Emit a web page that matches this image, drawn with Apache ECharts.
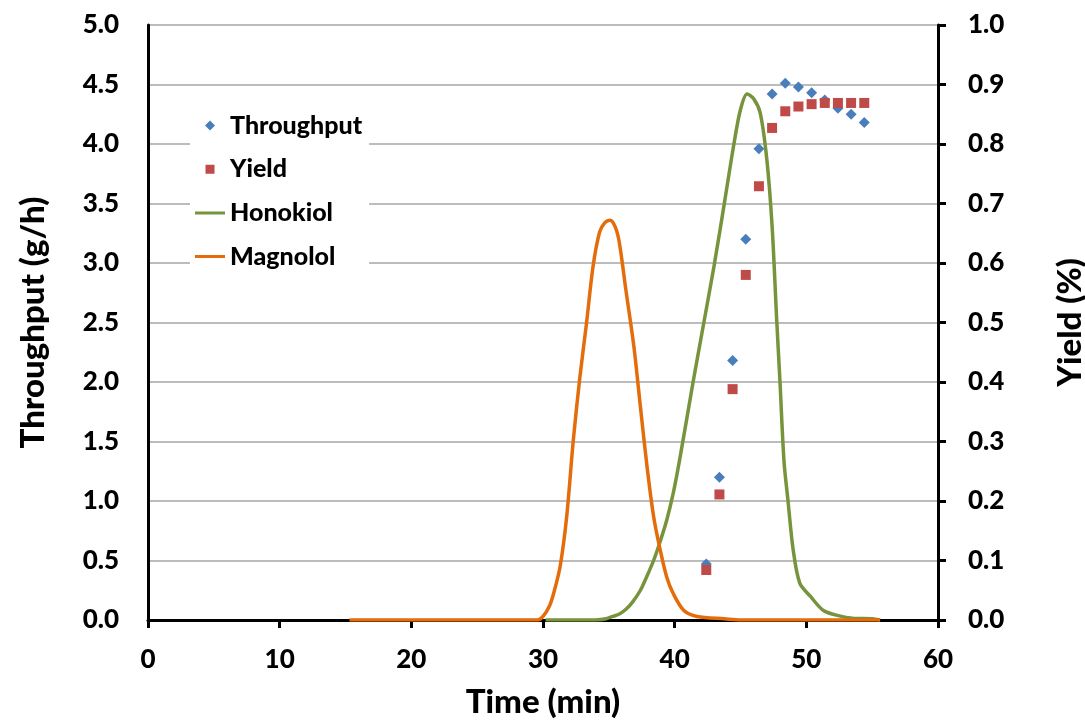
<!DOCTYPE html>
<html>
<head>
<meta charset="utf-8">
<script src="https://cdn.jsdelivr.net/npm/echarts@6/dist/echarts.min.js"></script>
<style>html,body{margin:0;padding:0;background:#fff}#c{width:1085px;height:722px}</style>
</head>
<body>
<div id="c"></div>
<script>
// Scatter data (time in min)
var scatterTime = [42.4, 43.4, 44.4, 45.4, 46.4, 47.4, 48.4, 49.4, 50.4, 51.4, 52.4, 53.4, 54.4];
var throughput = [0.47, 1.20, 2.18, 3.20, 3.96, 4.42, 4.51, 4.48, 4.43, 4.37, 4.30, 4.25, 4.18];
var yieldVals = [0.084, 0.211, 0.388, 0.580, 0.729, 0.827, 0.855, 0.863, 0.867, 0.869, 0.869, 0.869, 0.869];

// Honokiol chromatogram
var honokiolTime = [30.2, 34.0, 34.8, 35.3, 35.8, 36.3, 36.8, 37.4, 37.9, 38.4, 38.9, 39.4, 39.9, 40.4, 41.4, 42.2, 43.0, 43.8, 44.5, 45.0, 45.5, 46.0, 46.5, 47.0, 47.4, 47.75, 48.0, 48.3, 48.6, 49.0, 49.5, 50.3, 51.3, 52.5, 53.5, 55.0, 55.6];
var honokiolVal  = [0, 0, 0.01, 0.03, 0.05, 0.09, 0.15, 0.25, 0.37, 0.50, 0.66, 0.84, 1.07, 1.36, 2.00, 2.49, 2.98, 3.52, 4.00, 4.29, 4.42, 4.38, 4.26, 3.87, 3.31, 2.52, 2.00, 1.34, 1.01, 0.59, 0.31, 0.20, 0.08, 0.035, 0.015, 0.01, 0];

// Magnolol chromatogram
var magnololTime = [15.3, 29.6, 30.0, 30.5, 30.8, 31.3, 31.8, 32.3, 32.8, 33.3, 33.8, 34.3, 34.7, 35.1, 35.5, 35.8, 36.3, 36.9, 37.4, 37.9, 38.4, 38.9, 39.4, 39.9, 40.7, 41.7, 43.8, 45.0, 55.6];
var magnololVal  = [0, 0, 0.03, 0.12, 0.22, 0.45, 0.87, 1.51, 2.04, 2.49, 2.97, 3.26, 3.34, 3.36, 3.30, 3.17, 2.77, 2.30, 1.79, 1.29, 0.87, 0.59, 0.36, 0.22, 0.08, 0.03, 0.01, 0, 0];

function pairs(xs, ys) { return xs.map(function (x, i) { return [x, ys[i]]; }); }

var FONT = 'Lato';
var W = 900;
// legend icons padded inside a 30x24 box so markers stay small
var DIAMOND = 'path://M0,0L0.01,0L0,0.01Z M30,24L29.99,24L30,23.99Z M15,7L20,12L15,17L10,12Z';
var SQUARE = 'path://M0,0L0.01,0L0,0.01Z M30,24L29.99,24L30,23.99Z M10.5,7.5L19.5,7.5L19.5,16.5L10.5,16.5Z';
var LINE = 'path://M0,0L0.01,0L0,0.01Z M30,24L29.99,24L30,23.99Z M0,10.5L30,10.5L30,13.5L0,13.5Z';

var chart = echarts.init(document.getElementById('c'), null, { renderer: 'canvas' });
chart.setOption({
  animation: false,
  backgroundColor: '#fff',
  textStyle: { fontFamily: FONT, fontWeight: W, color: '#000' },
  grid: { left: 148, right: 147, top: 25, bottom: 102, containLabel: false, outerBoundsMode: 'none' },
  legend: {
    orient: 'vertical',
    left: 190,
    top: 103,
    padding: [10, 7, 7, 5],
    itemGap: 18.7,
    itemWidth: 30,
    itemHeight: 24,
    backgroundColor: '#fff',
    textStyle: { fontFamily: FONT, fontWeight: W, fontSize: 25, lineHeight: 24, color: '#000' },
    data: [
      { name: 'Throughput', icon: DIAMOND, itemStyle: { color: '#4A7EBB', opacity: 1, borderWidth: 0 } },
      { name: 'Yield', icon: SQUARE, itemStyle: { color: '#BE4B48', opacity: 1, borderWidth: 0 } },
      { name: 'Honokiol', icon: LINE, itemStyle: { color: '#77933C', opacity: 1, borderWidth: 0 } },
      { name: 'Magnolol', icon: LINE, itemStyle: { color: '#E46C0A', opacity: 1, borderWidth: 0 } }
    ]
  },
  xAxis: {
    type: 'value', min: 0, max: 60, interval: 10,
    name: 'Time (min)', nameLocation: 'middle', nameGap: 66,
    nameTextStyle: { fontFamily: FONT, fontWeight: W, fontSize: 33, color: '#000' },
    axisLine: { show: true, onZero: false, lineStyle: { color: '#000', width: 3 } },
    axisTick: { show: true, inside: false, length: 8, lineStyle: { color: '#000', width: 3 } },
    axisLabel: { fontFamily: FONT, fontWeight: W, fontSize: 26, color: '#000', margin: 27 },
    splitLine: { show: false }
  },
  yAxis: [
    {
      type: 'value', min: 0, max: 5, interval: 0.5,
      name: 'Throughput (g/h)', nameLocation: 'middle', nameGap: 98,
      nameTextStyle: { fontFamily: FONT, fontWeight: W, fontSize: 33, color: '#000' },
      axisLine: { show: true, onZero: false, lineStyle: { color: '#000', width: 3 } },
      axisTick: { show: false },
      axisLabel: { fontFamily: FONT, fontWeight: W, fontSize: 26, color: '#000', margin: 29,
        formatter: function (v) { return v.toFixed(1); } },
      splitLine: { show: true, lineStyle: { color: '#a6a6a6', width: 1.5 } }
    },
    {
      type: 'value', min: 0, max: 1, interval: 0.1, position: 'right',
      name: 'Yield (%)', nameLocation: 'middle', nameGap: 116,
      nameTextStyle: { fontFamily: FONT, fontWeight: W, fontSize: 33, color: '#000' },
      axisLine: { show: true, onZero: false, lineStyle: { color: '#000', width: 3 } },
      axisTick: { show: true, inside: false, length: 8, lineStyle: { color: '#000', width: 3 } },
      axisLabel: { fontFamily: FONT, fontWeight: W, fontSize: 26, color: '#000', margin: 30,
        formatter: function (v) { return v.toFixed(1); } },
      splitLine: { show: false }
    }
  ],
  series: [
    {
      name: 'Honokiol', type: 'line', yAxisIndex: 0, data: pairs(honokiolTime, honokiolVal),
      showSymbol: false, symbol: 'none', smooth: 0.3,
      lineStyle: { color: '#77933C', width: 3.5 }, itemStyle: { color: '#77933C' }, z: 2
    },
    {
      name: 'Magnolol', type: 'line', yAxisIndex: 0, data: pairs(magnololTime, magnololVal),
      showSymbol: false, symbol: 'none', smooth: 0.3,
      lineStyle: { color: '#E46C0A', width: 3.5 }, itemStyle: { color: '#E46C0A' }, z: 3
    },
    {
      name: 'Throughput', type: 'scatter', yAxisIndex: 0, data: pairs(scatterTime, throughput),
      symbol: 'diamond', symbolSize: 11, itemStyle: { color: '#4A7EBB', opacity: 1 }, z: 4
    },
    {
      name: 'Yield', type: 'scatter', yAxisIndex: 1, data: pairs(scatterTime, yieldVals),
      symbol: 'rect', symbolSize: 10, itemStyle: { color: '#BE4B48', opacity: 1 }, z: 5
    }
  ]
});
</script>
</body>
</html>
